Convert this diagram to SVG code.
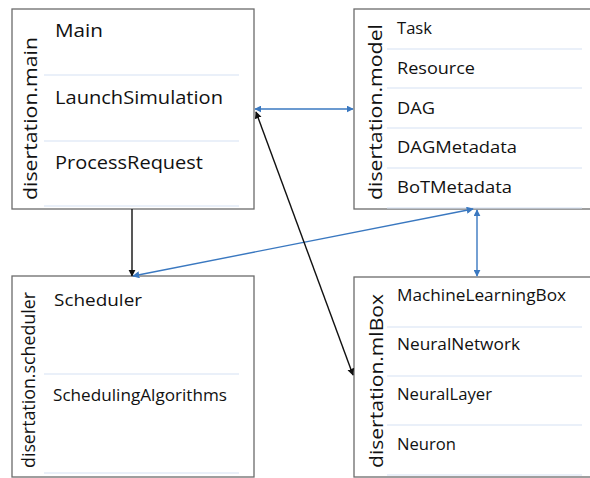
<svg xmlns="http://www.w3.org/2000/svg" width="590" height="478" viewBox="0 0 590 478">
<style>
.box{fill:#ffffff;stroke:#6b6b6b;stroke-width:1.3}
.div{stroke:#d5e2f3;stroke-width:1.2}
.t{font-family:"Open Sans","Liberation Sans",sans-serif;fill:#111111}
.big{font-size:18px}
.mid{font-size:16.5px}
.sm{font-size:15.5px}
.lab{font-family:"Open Sans","Liberation Sans",sans-serif;font-size:19px;fill:#111111}
.blue{stroke:#3a78c0;stroke-width:1.4;fill:none}
.black{stroke:#111111;stroke-width:1.4;fill:none}
</style>
<defs>
<marker id="ab" viewBox="0 0 10 10" refX="9" refY="5" markerWidth="7" markerHeight="7" markerUnits="userSpaceOnUse" orient="auto-start-reverse"><path d="M0,0 L10,5 L0,10 Z" fill="#3a78c0"/></marker>
<marker id="ak" viewBox="0 0 10 10" refX="9" refY="5" markerWidth="7" markerHeight="8" markerUnits="userSpaceOnUse" orient="auto-start-reverse"><path d="M0,0 L10,5 L0,10 Z" fill="#111111"/></marker>
</defs>
<g id="main">
<rect class="box" x="12" y="9" width="242" height="200"/>
<line class="div" x1="44" y1="75" x2="239" y2="75"/>
<line class="div" x1="44" y1="141" x2="239" y2="141"/>
<line class="div" x1="44" y1="206" x2="239" y2="206"/>
<text class="t big" x="55" y="37" textLength="48" lengthAdjust="spacingAndGlyphs">Main</text>
<text class="t big" x="55" y="104" textLength="168" lengthAdjust="spacingAndGlyphs">LaunchSimulation</text>
<text class="t big" x="55" y="169" textLength="148" lengthAdjust="spacingAndGlyphs">ProcessRequest</text>
<text class="lab" transform="translate(37,200) rotate(-90)" textLength="163" lengthAdjust="spacingAndGlyphs">disertation.main</text>
</g>
<g id="model">
<rect class="box" x="354" y="9" width="240" height="200"/>
<line class="div" x1="387" y1="49" x2="582" y2="49"/>
<line class="div" x1="387" y1="88" x2="582" y2="88"/>
<line class="div" x1="387" y1="128" x2="582" y2="128"/>
<line class="div" x1="387" y1="168" x2="582" y2="168"/>
<line class="div" x1="387" y1="208" x2="582" y2="208"/>
<text class="t mid" x="397" y="34" textLength="35" lengthAdjust="spacingAndGlyphs">Task</text>
<text class="t mid" x="397" y="74" textLength="78" lengthAdjust="spacingAndGlyphs">Resource</text>
<text class="t mid" x="397" y="114" textLength="38" lengthAdjust="spacingAndGlyphs">DAG</text>
<text class="t mid" x="397" y="153" textLength="120" lengthAdjust="spacingAndGlyphs">DAGMetadata</text>
<text class="t mid" x="397" y="193" textLength="115" lengthAdjust="spacingAndGlyphs">BoTMetadata</text>
<text class="lab" transform="translate(382,200) rotate(-90)" textLength="176" lengthAdjust="spacingAndGlyphs">disertation.model</text>
</g>
<g id="scheduler">
<rect class="box" x="12" y="276" width="242" height="201"/>
<line class="div" x1="44" y1="374" x2="239" y2="374"/>
<line class="div" x1="44" y1="473" x2="239" y2="473"/>
<text class="t mid" x="54" y="306" textLength="88" lengthAdjust="spacingAndGlyphs">Scheduler</text>
<text class="t sm" x="53" y="401" textLength="174" lengthAdjust="spacingAndGlyphs">SchedulingAlgorithms</text>
<text class="lab" transform="translate(35,468) rotate(-90)" textLength="176" lengthAdjust="spacingAndGlyphs">disertation.scheduler</text>
</g>
<g id="mlBox">
<rect class="box" x="354" y="277" width="240" height="200"/>
<line class="div" x1="387" y1="327" x2="582" y2="327"/>
<line class="div" x1="387" y1="376" x2="582" y2="376"/>
<line class="div" x1="387" y1="425" x2="582" y2="425"/>
<line class="div" x1="387" y1="475" x2="582" y2="475"/>
<text class="t sm" x="397" y="301" textLength="169" lengthAdjust="spacingAndGlyphs">MachineLearningBox</text>
<text class="t sm" x="397" y="350" textLength="123" lengthAdjust="spacingAndGlyphs">NeuralNetwork</text>
<text class="t sm" x="397" y="400" textLength="95" lengthAdjust="spacingAndGlyphs">NeuralLayer</text>
<text class="t sm" x="397" y="450" textLength="59" lengthAdjust="spacingAndGlyphs">Neuron</text>
<text class="lab" transform="translate(383,468) rotate(-90)" textLength="174" lengthAdjust="spacingAndGlyphs">disertation.mlBox</text>
</g>
<g id="connectors">
<line class="blue" x1="255" y1="109" x2="353" y2="109" marker-start="url(#ab)" marker-end="url(#ab)"/>
<line class="black" x1="132" y1="209" x2="132" y2="276" marker-end="url(#ak)"/>
<line class="blue" x1="473" y1="209" x2="133" y2="276" marker-start="url(#ab)" marker-end="url(#ab)"/>
<line class="blue" x1="477" y1="210" x2="477" y2="276" marker-start="url(#ab)" marker-end="url(#ab)"/>
<line class="black" x1="256" y1="112" x2="353" y2="375" marker-start="url(#ak)" marker-end="url(#ak)"/>
</g>
</svg>
